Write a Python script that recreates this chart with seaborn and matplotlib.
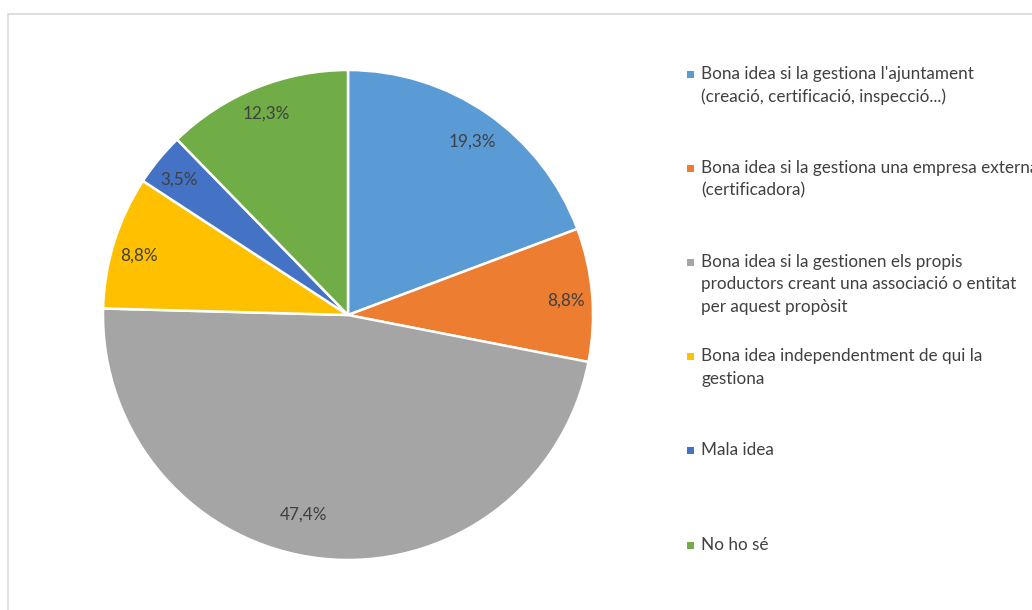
import matplotlib
matplotlib.use("Agg")
import matplotlib.pyplot as plt
from matplotlib.patches import Rectangle
import seaborn as sns

# Data
labels = [
    "Bona idea si la gestiona l'ajuntament\n(creació, certificació, inspecció...)",
    "Bona idea si la gestiona una empresa externa\n(certificadora)",
    "Bona idea si la gestionen els propis\nproductors creant una associació o entitat\nper aquest propòsit",
    "Bona idea independentment de qui la\ngestiona",
    "Mala idea",
    "No ho sé",
]
percents = [19.3, 8.8, 47.4, 8.8, 3.5, 12.3]
colors = ["#5B9BD5", "#ED7D31", "#A5A5A5", "#FFC000", "#4472C4", "#70AD47"]

# label placement inside the slices (radius units), as in the original
label_xy = [(0.506, 0.706), (0.890, 0.057), (-0.180, -0.816),
            (-0.853, 0.241), (-0.690, 0.551), (-0.335, 0.820)]

sns.set_theme(style="white")
plt.rcParams["font.family"] = ["Lato", "DejaVu Sans"]

W, H = 1032, 610
fig = plt.figure(figsize=(W / 100, H / 100), dpi=100)

# chart frame (right and bottom edges fall outside the image)
fig.patches.append(Rectangle((8 / W, -0.1), 1.2, (H - 14) / H + 0.1,
                             transform=fig.transFigure, fill=False,
                             edgecolor="#D9D9D9", linewidth=1.2))

# Pie: centre (348, 315), radius 245 px
cx, cy, r = 348, 315, 245
ax = fig.add_axes([(cx - r) / W, (H - cy - r) / H, 2 * r / W, 2 * r / H])
wedges, texts, autotexts = ax.pie(
    percents, colors=colors, startangle=90, counterclock=False,
    autopct=lambda p: f"{p:.1f}%".replace(".", ","),
    wedgeprops=dict(edgecolor="white", linewidth=1.8),
    textprops=dict(color="#404040", fontsize=12.3),
)
for t, xy in zip(autotexts, label_xy):
    t.set_position(xy)
ax.set_xlim(-1, 1)
ax.set_ylim(-1, 1)
ax.set_aspect("equal")
ax.axis("off")

# Legend: entries evenly spaced, one square marker each
y0, step = 74, 94.2
for i, (lab, col) in enumerate(zip(labels, colors)):
    y = y0 + i * step
    fig.patches.append(Rectangle((687 / W, (H - y - 3.5) / H), 7 / W, 7 / H,
                                 transform=fig.transFigure, facecolor=col,
                                 edgecolor="none"))
    fig.text(701 / W, (H - y + 8.4) / H, lab, fontsize=12.3, color="#404040",
             va="top", ha="left", linespacing=1.5)

fig.savefig("out.png", dpi=100, facecolor="white")
